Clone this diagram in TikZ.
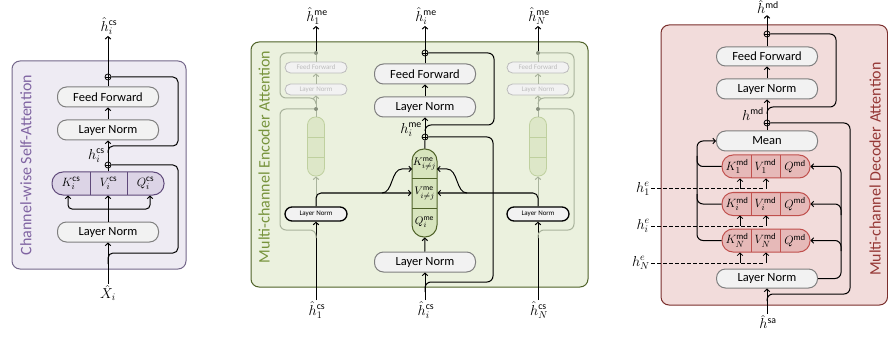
\documentclass[tikz,border=0pt]{standalone}
\usepackage{fontspec}
\setmainfont{Carlito}
\usetikzlibrary{arrows.meta}
\definecolor{boxfill}{HTML}{F2F2F2}
\definecolor{boxgray}{HTML}{7F7F7F}
\definecolor{frLfill}{HTML}{EEEBF3}
\definecolor{frLdraw}{HTML}{74678A}
\definecolor{lblLcol}{HTML}{8064A2}
\definecolor{kvqLfill}{HTML}{DCD4E6}
\definecolor{kvqLdraw}{HTML}{5F497A}
\definecolor{frMfill}{HTML}{EBF1DE}
\definecolor{frMdraw}{HTML}{4F6228}
\definecolor{lblMcol}{HTML}{77933C}
\definecolor{pillfill}{HTML}{D7E4BD}
\definecolor{fpillfill}{HTML}{DDE7C8}
\definecolor{fpilldraw}{HTML}{BFD09F}
\definecolor{fadeline}{HTML}{A9B39C}
\definecolor{fadetext}{HTML}{BDBDBD}
\definecolor{frRfill}{HTML}{F2DCDB}
\definecolor{frRdraw}{HTML}{7A2E2C}
\definecolor{lblRcol}{HTML}{953735}
\definecolor{rowfill}{HTML}{E6B9B8}
\definecolor{rowdraw}{HTML}{C0504D}
\begin{document}
\begin{tikzpicture}[x=1pt,y=-1pt,
  box/.style={draw=boxgray, fill=boxfill, line width=1pt, rounded corners=9pt,
    minimum width=101pt, minimum height=20pt, inner sep=0pt, font=\fontsize{12.5}{14}\selectfont},
  fbox/.style={draw=fadetext, fill=boxfill, line width=0.8pt, rounded corners=5.5pt,
    minimum width=62pt, minimum height=11pt, inner sep=0pt, text=fadetext, font=\fontsize{7}{8}\selectfont},
  bbox/.style={draw=black, fill=boxfill, line width=1.3pt, rounded corners=7pt,
    minimum width=62pt, minimum height=14pt, inner sep=0pt, font=\fontsize{7}{8}\selectfont},
  mlbl/.style={inner sep=1pt, font=\fontsize{14}{16}\selectfont},
  klbl/.style={inner sep=0pt, font=\fontsize{13}{15}\selectfont},
  ptxt/.style={inner sep=0pt, font=\fontsize{11}{13}\selectfont},
  rtxt/.style={inner sep=0pt, font=\fontsize{12.5}{14}\selectfont},
  plus/.style={circle, draw, line width=0.8pt, inner sep=0pt, minimum size=6pt,
    path picture={\draw[line width=0.6pt] (path picture bounding box.north) -- (path picture bounding box.south)
      (path picture bounding box.west) -- (path picture bounding box.east);}},
  dot/.style={circle, fill=fadeline!80!black, inner sep=0pt, minimum size=4pt},
  ln/.style={line width=1pt, draw=black},
  fln/.style={line width=1pt, draw=fadeline},
  arr/.style={-{Straight Barb[length=2.5pt,width=5.5pt]}},
  arrb/.style={{Straight Barb[length=2.5pt,width=5.5pt]}-{Straight Barb[length=2.5pt,width=5.5pt]}},
  frlbl/.style={rotate=90, inner sep=0pt, font=\fontsize{16}{18}\selectfont}
]
\useasboundingbox (0,0) rectangle (888,339);

% ================= LEFT PANEL =================
\draw[fill=frLfill, draw=frLdraw, line width=1pt, rounded corners=8pt] (12,61) rectangle (186,269);
\node[frlbl, text=lblLcol] (tL) at (26,165) {Channel-wise Self-Attention};
\node[mlbl] (outL) at (109,26) {$\hat{h}_i^{\mathrm{cs}}$};
\node[plus] (pL2) at (108,77) {};
\node[box] (ffL) at (108,97) {Feed Forward};
\node[box] (lnL1) at (108,130) {Layer Norm};
\node[plus] (pL1) at (108,165) {};
\node[mlbl, anchor=east] (hL) at (106,156) {$h_i^{\mathrm{cs}}$};
\node[draw=kvqLdraw, fill=kvqLfill, line width=1pt, rounded corners=11pt, minimum width=112pt, minimum height=23pt, inner sep=0pt] (kvqL) at (108,183.5) {};
\draw[draw=kvqLdraw, line width=0.8pt] (90,172) -- (90,195) (127,172) -- (127,195);
\node[klbl] (kL) at (71,183.5) {$K_i^{\mathrm{cs}}$};
\node[klbl] (vL) at (108.5,183.5) {$V_i^{\mathrm{cs}}$};
\node[klbl] (qL) at (145.5,183.5) {$Q_i^{\mathrm{cs}}$};
\node[box] (lnL2) at (108,232) {Layer Norm};
\node[mlbl] (inL) at (108,293) {$\hat{X}_i$};
\coordinate (bkL) at (68,195.5);
\coordinate (bqL) at (150,195.5);

\draw[ln,arr] (inL) -- (lnL2);
\draw[ln,arr] (lnL2) -- (kvqL);
\draw[ln,arrb,rounded corners=4pt] (bkL) -- (68,209) -- (150,209) -- (bqL);
\draw[ln,rounded corners=5pt] (108,264) |- (178,253) |- (pL1);
\draw[ln,rounded corners=5pt] (108,153) |- (178,146) |- (pL2);
\draw[ln] (kvqL) -- (pL1);
\draw[ln,arr] (pL1) -- (lnL1);
\draw[ln,arr] (lnL1) -- (ffL);
\draw[ln] (ffL) -- (pL2);
\draw[ln,arr] (pL2) -- (outL.south -| 108,0);

% ================= MIDDLE PANEL =================
\draw[fill=frMfill, draw=frMdraw, line width=1pt, rounded corners=8pt] (251,42) rectangle (588,287);
\node[frlbl, text=lblMcol] (tM) at (264,157) {Multi-channel Encoder Attention};
\node[mlbl] (outM) at (426,16) {$\hat{h}_i^{\mathrm{me}}$};
\node[plus] (pM2) at (425,53) {};
\node[box] (ffM) at (425,74) {Feed Forward};
\node[box] (lnM1) at (425,107) {Layer Norm};
\node[plus] (pM1) at (425,137) {};
\node[mlbl, anchor=east] (hM) at (423,130) {$h_i^{\mathrm{me}}$};
\node[draw=frMdraw, fill=pillfill, line width=1pt, rounded corners=12pt, minimum width=25pt, minimum height=88pt, inner sep=0pt] (pill) at (424.5,193) {};
\draw[draw=frMdraw, line width=0.8pt] (412,178) -- (437,178) (412,208) -- (437,208);
\node[ptxt] (kM) at (424.5,164) {$K^{\mathrm{me}}_{i\neq j}$};
\node[ptxt] (vM) at (424.5,193.5) {$V^{\mathrm{me}}_{i\neq j}$};
\node[ptxt] (qM) at (424.5,222.5) {$Q^{\mathrm{me}}_{i}$};
\node[box] (lnM2) at (425,262) {Layer Norm};
\node[mlbl] (inM) at (426,310) {$\hat{h}_i^{\mathrm{cs}}$};

\draw[ln,arr] (inM.north -| 425,0) -- (lnM2);
\draw[ln,arr] (lnM2) -- (pill);
\draw[ln] (pill) -- (pM1);
\draw[ln,arr] (pM1) -- (lnM1);
\draw[ln,arr] (lnM1) -- (ffM);
\draw[ln] (ffM) -- (pM2);
\draw[ln,arr] (pM2) -- (outM.south -| 425,0);
\draw[ln,rounded corners=6pt] (425,292) |- (493,282) |- (pM1);
\draw[ln,rounded corners=6pt] (425,131) |- (494,125) |- (pM2);

% --- side column 1 ---
\node[mlbl] (out1) at (317,16) {$\hat{h}_1^{\mathrm{me}}$};
\node[dot] (d12) at (316,53) {};
\node[fbox] (ff1) at (316,67.5) {Feed Forward};
\node[fbox] (ln1a) at (316,89.5) {Layer Norm};
\node[dot] (d11) at (316,109) {};
\node[draw=fpilldraw, fill=fpillfill, line width=0.8pt, rounded corners=8pt, minimum width=17pt, minimum height=59pt, inner sep=0pt] (pill1) at (316,146.5) {};
\draw[draw=fpilldraw, line width=0.7pt] (307.5,137) -- (324.5,137) (307.5,157) -- (324.5,157);
\node[bbox] (ln1) at (316,214) {Layer Norm};
\node[mlbl] (in1) at (317,310) {$\hat{h}_1^{\mathrm{cs}}$};

\draw[ln,arr] (in1.north -| 316,0) -- (ln1);
\draw[fln,arr] (ln1) -- (pill1);
\draw[fln] (pill1) -- (d11);
\draw[fln,arr] (d11) -- (ln1a);
\draw[fln,arr] (ln1a) -- (ff1);
\draw[fln] (ff1) -- (d12);
\draw[ln,arr] (d12) -- (out1.south -| 316,0);
\draw[fln,rounded corners=6pt] (316,238) |- (280,230) |- (d11);
\draw[fln,rounded corners=6pt] (316,103) |- (280,98) |- (d12);
\draw[ln,arr,rounded corners=5pt] (ln1.north) |- (pill.west);
\draw[ln,arr] (382,193) .. controls (393,193) and (391,169) .. (402,169) -- (412,169);

% --- side column N ---
\node[mlbl] (outN) at (539,16) {$\hat{h}_N^{\mathrm{me}}$};
\node[dot] (dN2) at (538,53) {};
\node[fbox] (ffN) at (538,67.5) {Feed Forward};
\node[fbox] (lnNa) at (538,89.5) {Layer Norm};
\node[dot] (dN1) at (538,109) {};
\node[draw=fpilldraw, fill=fpillfill, line width=0.8pt, rounded corners=8pt, minimum width=17pt, minimum height=59pt, inner sep=0pt] (pillN) at (538,146.5) {};
\draw[draw=fpilldraw, line width=0.7pt] (529.5,137) -- (546.5,137) (529.5,157) -- (546.5,157);
\node[bbox] (lnN) at (538,214) {Layer Norm};
\node[mlbl] (inN) at (539,310) {$\hat{h}_N^{\mathrm{cs}}$};

\draw[ln,arr] (inN.north -| 538,0) -- (lnN);
\draw[fln,arr] (lnN) -- (pillN);
\draw[fln] (pillN) -- (dN1);
\draw[fln,arr] (dN1) -- (lnNa);
\draw[fln,arr] (lnNa) -- (ffN);
\draw[fln] (ffN) -- (dN2);
\draw[ln,arr] (dN2) -- (outN.south -| 538,0);
\draw[fln,rounded corners=6pt] (538,238) |- (574,230) |- (dN1);
\draw[fln,rounded corners=6pt] (538,103) |- (574,98) |- (dN2);
\draw[ln,arr,rounded corners=5pt] (lnN.north) |- (pill.east);
\draw[ln,arr] (467,193) .. controls (456,193) and (458,169) .. (447,169) -- (437,169);

% ================= RIGHT PANEL =================
\draw[fill=frRfill, draw=frRdraw, line width=1pt, rounded corners=8pt] (661,25) rectangle (887.5,305);
\node[frlbl, text=lblRcol] (tR) at (875,169) {Multi-channel Decoder Attention};
\node[mlbl] (outR) at (768,7) {$\hat{h}^{\mathrm{md}}$};
\node[plus] (pR2) at (767,34) {};
\node[box, minimum height=19pt] (ffR) at (767,56.5) {Feed Forward};
\node[box] (lnR1) at (767,89) {Layer Norm};
\node[mlbl, anchor=east] (hR) at (765,114) {$h^{\mathrm{md}}$};
\node[plus] (pR1) at (767,123) {};
\node[box] (mean) at (767,141) {Mean};
\foreach \nm/\yy/\sub in {r1/166.5/1, r2/204/i, r3/240.5/N}{
  \node[draw=rowdraw, fill=rowfill, line width=1pt, rounded corners=11pt, minimum width=88pt, minimum height=23pt, inner sep=0pt] (\nm) at (766,\yy) {};
  \draw[draw=rowdraw, line width=0.8pt] (751,\yy-11.5) -- (751,\yy+11.5) (780,\yy-11.5) -- (780,\yy+11.5);
  \node[rtxt] (\nm k) at (737,\yy) {$K_{\sub}^{\mathrm{md}}$};
  \node[rtxt] (\nm v) at (765.5,\yy) {$V_{\sub}^{\mathrm{md}}$};
  \node[rtxt] (\nm q) at (795,\yy) {$Q^{\mathrm{md}}$};
}
\node[box, minimum height=19pt] (lnR2) at (767,278.5) {Layer Norm};
\node[mlbl] (inR) at (768,322) {$\hat{h}^{\mathrm{sa}}$};
\node[mlbl, anchor=east] (he1) at (651,189) {$h_1^{e}$};
\node[mlbl, anchor=east] (hei) at (651,226) {$h_i^{e}$};
\node[mlbl, anchor=east] (heN) at (651,263) {$h_N^{e}$};

\draw[ln,arr] (inR.north -| 767,0) -- (lnR2);
\draw[ln] (mean) -- (pR1);
\draw[ln,arr] (pR1) -- (lnR1);
\draw[ln,arr] (lnR1) -- (ffR);
\draw[ln] (ffR) -- (pR2);
\draw[ln,arr] (pR2) -- (outR.south -| 767,0);
\draw[ln,rounded corners=6pt] (767,301) |- (850,294) |- (pR1);
\draw[ln,rounded corners=6pt] (767,114) |- (836,107) |- (pR2);
% query feed from lower layer norm
\draw[ln,arr,rounded corners=6pt] (lnR2.east) -| (841,166.5) -- (r1.east);
\draw[ln,arr,rounded corners=6pt] (841,215) |- (r2.east);
\draw[ln,arr,rounded corners=6pt] (841,251) |- (r3.east);
% outputs to mean
\draw[ln,arr,rounded corners=6pt] (r3.west) -| (697,141) -- (mean.west);
\draw[ln,rounded corners=6pt] (r1.west) -| (697,156);
\draw[ln,rounded corners=6pt] (r2.west) -| (697,194);
% encoder memory inputs
\foreach \hh/\yy/\rr in {he1/189/r1, hei/226/r2, heN/263/r3}{
  \draw[ln, dashed, dash pattern=on 3.5pt off 2.5pt] (\hh.east) -- (764,\yy);
  \draw[line width=0.8pt,arr] (740,\yy) -- (740,\yy-10.5);
  \draw[line width=0.8pt,arr] (766,\yy) -- (766,\yy-10.5);
}
\end{tikzpicture}
\end{document}
